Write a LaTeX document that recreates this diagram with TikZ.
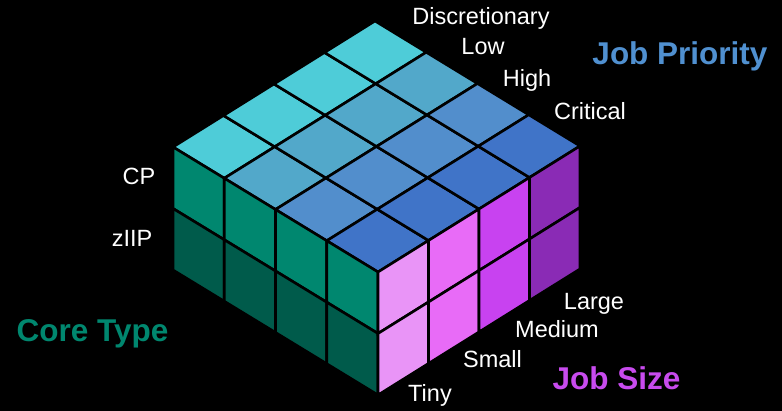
\documentclass[tikz,border=0pt]{standalone}
\usepackage{fontspec}
\setmainfont{Liberation Sans}
\definecolor{topA}{HTML}{4ECCD8}
\definecolor{topB}{HTML}{52A8CA}
\definecolor{topC}{HTML}{528ECC}
\definecolor{topD}{HTML}{4074C8}
\definecolor{cpcol}{HTML}{00876F}
\definecolor{ziipcol}{HTML}{005B4B}
\definecolor{szA}{HTML}{E994F7}
\definecolor{szB}{HTML}{E86BF7}
\definecolor{szC}{HTML}{C842F0}
\definecolor{szD}{HTML}{8A2BB5}
\definecolor{prioTitle}{HTML}{5090D0}
\definecolor{coreTitle}{HTML}{00876F}
\definecolor{sizeTitle}{HTML}{C84BEE}
\begin{document}
\begin{tikzpicture}[x=1pt,y=-1pt,
  cell/.style={draw=black, line width=2.6pt, line join=miter},
  lbl/.style={text=white, font=\fontsize{23.5}{28}\selectfont, anchor=base, inner sep=0pt},
  ttl/.style={font=\bfseries\fontsize{31.5}{36}\selectfont, anchor=base, inner sep=0pt}]
\fill[black] (0,0) rectangle (782,411);
\useasboundingbox (0,0) rectangle (782,411);
% top face
\foreach \i/\c in {0/topA,1/topB,2/topC,3/topD}{
  \foreach \j in {0,1,2,3}{
    \filldraw[cell, fill=\c] ({173+51.25*\i+50.5*\j},{147+31.25*\i-31.5*\j})
      -- ++(51.25,31.25) -- ++(50.5,-31.5) -- ++(-51.25,-31.25) -- cycle;
  }}
% left face (core type)
\foreach \k/\c in {0/cpcol,1/ziipcol}{
  \foreach \i in {0,1,2,3}{
    \filldraw[cell, fill=\c] ({173+51.25*\i},{147+31.25*\i+61.5*\k})
      -- ++(51.25,31.25) -- ++(0,61.5) -- ++(-51.25,-31.25) -- cycle;
  }}
% right face (job size)
\foreach \j/\c in {0/szA,1/szB,2/szC,3/szD}{
  \foreach \k in {0,1}{
    \filldraw[cell, fill=\c] ({378+50.5*\j},{272-31.5*\j+61.5*\k})
      -- ++(50.5,-31.5) -- ++(0,61.5) -- ++(-50.5,31.5) -- cycle;
  }}
% labels
\node[lbl] (disc) at (481,25) {Discretionary};
\node[lbl] (low) at (483,55) {Low};
\node[lbl] (high) at (527,87) {High};
\node[lbl] (crit) at (590,120) {Critical};
\node[lbl] (cp) at (139,185) {CP};
\node[lbl] (ziip) at (132,247) {zIIP};
\node[lbl] (large) at (594,310) {Large};
\node[lbl] (medium) at (557,338) {Medium};
\node[lbl] (small) at (492.5,368) {Small};
\node[lbl] (tiny) at (430,402) {Tiny};
\node[ttl, text=prioTitle] (prio) at (680,65) {Job Priority};
\node[ttl, text=coreTitle] (core) at (92.5,342) {Core Type};
\node[ttl, text=sizeTitle] (size) at (616.5,390) {Job Size};
\end{tikzpicture}
\end{document}
